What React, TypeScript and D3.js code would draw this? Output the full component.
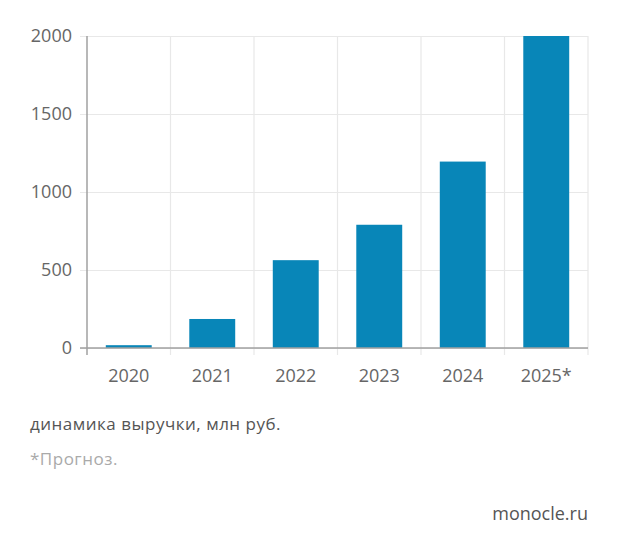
import React, { useEffect, useRef } from "react";
import * as d3 from "d3";

const years = ["2020", "2021", "2022", "2023", "2024", "2025*"];
const revenue = [18, 186, 563, 790, 1195, 2000];
const yTicks = [0, 500, 1000, 1500, 2000];

const caption = "динамика выручки, млн руб.";
const footnote = "*Прогноз.";
const source = "monocle.ru";

const width = 620;
const height = 552;
const margin = { top: 36, right: 32, bottom: 204, left: 87 };

const App: React.FC = () => {
  const svgRef = useRef<SVGSVGElement | null>(null);

  useEffect(() => {
    const svg = d3
      .select(svgRef.current)
      .attr("width", width)
      .attr("height", height)
      .style("font-family", "'Open Sans', sans-serif");

    svg.selectAll("*").remove();

    const x = d3
      .scaleBand()
      .domain(years)
      .range([margin.left, width - margin.right])
      .paddingInner(0.45)
      .paddingOuter(0.225);

    const y = d3
      .scaleLinear()
      .domain([0, 2000])
      .range([height - margin.bottom, margin.top]);

    const x0 = margin.left;
    const x1 = width - margin.right;
    const step = x.step();
    const bandStart = x0 + (x1 - x0 - step * years.length) / 2;

    // vertical grid lines between the categories, with ticks below the axis
    const vLines = d3.range(years.length + 1).map((i) => bandStart + i * step);
    svg
      .append("g")
      .selectAll("line")
      .data(vLines.slice(1))
      .enter()
      .append("line")
      .attr("x1", (d) => d)
      .attr("x2", (d) => d)
      .attr("y1", y(2000))
      .attr("y2", y(0) + 7)
      .attr("stroke", "#e8e8e8")
      .attr("stroke-width", 1.2);

    // horizontal grid lines
    const yAxis = d3
      .axisLeft(y)
      .tickValues(yTicks)
      .tickSize(-(x1 - x0 + 7))
      .tickPadding(8)
      .tickFormat((d) => String(d));

    svg
      .append("g")
      .attr("transform", `translate(${x0 - 7},0)`)
      .call(yAxis)
      .call((g) => g.select(".domain").remove())
      .call((g) =>
        g.selectAll(".tick line").attr("stroke", "#e8e8e8").attr("stroke-width", 1.2)
      )
      .call((g) =>
        g
          .selectAll(".tick text")
          .attr("fill", "#666")
          .attr("font-size", 18)
          .attr("font-family", "'Open Sans', sans-serif")
      );

    // bars
    svg
      .append("g")
      .selectAll("rect")
      .data(revenue)
      .enter()
      .append("rect")
      .attr("x", (_, i) => x(years[i]) as number)
      .attr("width", x.bandwidth())
      .attr("y", (d) => y(d))
      .attr("height", (d) => y(0) - y(d))
      .attr("fill", "#0886b8");

    // axis lines
    svg
      .append("line")
      .attr("x1", x0 - 7)
      .attr("x2", x1)
      .attr("y1", y(0))
      .attr("y2", y(0))
      .attr("stroke", "#a0a0a0")
      .attr("stroke-width", 1.5);

    svg
      .append("line")
      .attr("x1", x0)
      .attr("x2", x0)
      .attr("y1", y(2000))
      .attr("y2", y(0) + 7)
      .attr("stroke", "#a0a0a0")
      .attr("stroke-width", 1.5);

    // category labels
    svg
      .append("g")
      .selectAll("text")
      .data(years)
      .enter()
      .append("text")
      .attr("x", (d) => (x(d) as number) + x.bandwidth() / 2)
      .attr("y", y(0) + 34)
      .attr("text-anchor", "middle")
      .attr("fill", "#666")
      .attr("font-size", 18)
      .text((d) => d);

    svg
      .append("text")
      .attr("x", 30)
      .attr("y", 430)
      .attr("fill", "#555")
      .attr("font-size", 17)
      .attr("letter-spacing", 0.5)
      .text(caption);

    svg
      .append("text")
      .attr("x", 30)
      .attr("y", 465)
      .attr("fill", "#aaa")
      .attr("font-size", 17)
      .attr("letter-spacing", 0.5)
      .text(footnote);

    svg
      .append("text")
      .attr("x", 588)
      .attr("y", 520)
      .attr("text-anchor", "end")
      .attr("fill", "#555")
      .attr("font-size", 18)
      .text(source);
  }, []);

  return (
    <div style={{ position: "absolute", left: 0, top: 0, background: "#fff" }}>
      <svg ref={svgRef}></svg>
    </div>
  );
};

export default App;
